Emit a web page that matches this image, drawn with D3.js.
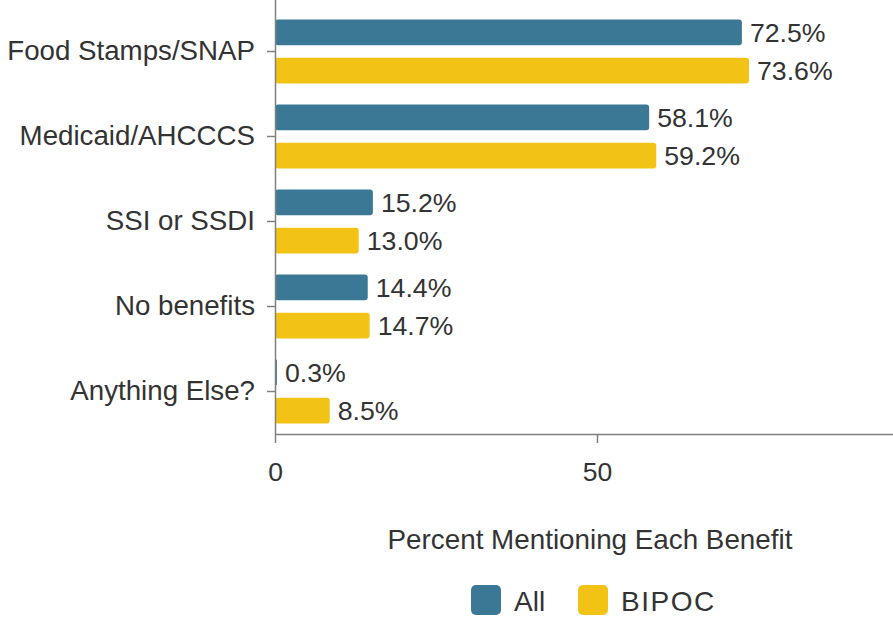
<!DOCTYPE html>
<html><head><meta charset="utf-8">
<script src="https://cdn.jsdelivr.net/npm/d3@7"></script>
<style>
body{margin:0;background:#fff;}
svg{display:block;font-family:"Liberation Sans",Arial,sans-serif;}
</style></head><body>
<svg id="chart" width="893" height="617"></svg>
<script>
const categories = ["Food Stamps/SNAP","Medicaid/AHCCCS","SSI or SSDI","No benefits","Anything Else?"];
const seriesNames = ["All","BIPOC"];
const allValues = [72.5, 58.1, 15.2, 14.4, 0.3];
const bipocValues = [73.6, 59.2, 13.0, 14.7, 8.5];
const xTicks = [0, 50];
const colors = ["#3b7895", "#f2c314"];
const axisTitle = "Percent Mentioning Each Benefit";

const svg = d3.select("#chart");
const x0 = 275, axisY = 434;
const x = d3.scaleLinear().domain([0,100]).range([x0, x0 + 644]);
const y = d3.scaleBand().domain(categories).range([9, axisY]).padding(0);
const ySub = d3.scaleBand().domain(seriesNames).range([10.5, 74.5]).paddingInner(0.33).paddingOuter(0);
const textColor = "#333";
const axisColor = "#808080";

const data = categories.map((c,i)=>({cat:c, vals:[allValues[i], bipocValues[i]]}));

const groups = svg.append("g").selectAll("g").data(data).join("g")
  .attr("transform", d=>`translate(0,${y(d.cat)})`);

groups.selectAll("rect").data(d=>d.vals.map((v,j)=>({v, s:seriesNames[j], j})))
  .join("rect")
  .attr("x", x(0))
  .attr("y", d=>ySub(d.s))
  .attr("width", d=>x(d.v)-x(0))
  .attr("height", ySub.bandwidth())
  .attr("rx", d=> Math.min(3, (x(d.v)-x(0))/2))
  .attr("fill", d=>colors[d.j]);

groups.selectAll("text").data(d=>d.vals.map((v,j)=>({v, s:seriesNames[j], j})))
  .join("text")
  .attr("x", d=>x(d.v)+8)
  .attr("y", d=>ySub(d.s)+ySub.bandwidth()/2)
  .attr("dy","0.35em")
  .attr("font-size",26.7)
  .attr("fill",textColor)
  .text(d=>d.v.toFixed(1)+"%");

// y axis
const yAxis = svg.append("g").attr("transform",`translate(${x0},0)`)
  .call(d3.axisLeft(y).tickSize(8).tickPadding(12).tickSizeOuter(0));
yAxis.select(".domain").attr("d", `M0.5,0V${axisY}`).attr("stroke",axisColor).attr("stroke-width",1.5);
yAxis.selectAll(".tick line").attr("stroke",axisColor).attr("stroke-width",1.5);
yAxis.selectAll(".tick text").attr("font-size",27.7).attr("fill",textColor).attr("font-family","Liberation Sans, Arial, sans-serif");

// x axis
const xAxis = svg.append("g").attr("transform",`translate(0,${axisY})`)
  .call(d3.axisBottom(x).tickValues(xTicks).tickSize(9).tickPadding(19).tickSizeOuter(0));
xAxis.select(".domain").attr("stroke",axisColor).attr("stroke-width",1.5);
xAxis.selectAll(".tick line").attr("stroke",axisColor).attr("stroke-width",1.5);
xAxis.selectAll(".tick text").attr("font-size",26.5).attr("fill",textColor).attr("font-family","Liberation Sans, Arial, sans-serif");

svg.append("text").attr("x",590).attr("y",549).attr("text-anchor","middle")
  .attr("font-size",27.8).attr("fill",textColor).text(axisTitle);

// legend
const legendX = [471, 578];
const lg = svg.append("g").selectAll("g").data(seriesNames).join("g")
  .attr("transform",(d,i)=>`translate(${legendX[i]},585)`);
lg.append("rect").attr("width",30).attr("height",30).attr("rx",5).attr("fill",(d,i)=>colors[i]);
lg.append("text").attr("x",43).attr("y",26).attr("font-size",28).attr("letter-spacing",(d,i)=>i===1?1.5:0).attr("fill",textColor).text(d=>d);
</script>
</body></html>
